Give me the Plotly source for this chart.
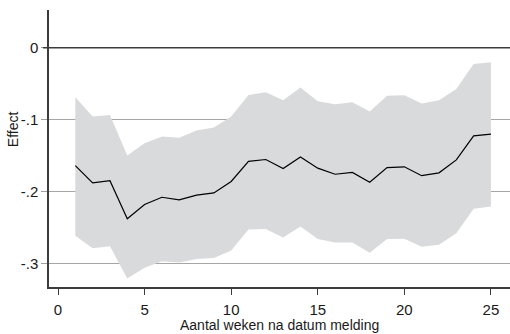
import plotly.graph_objects as go

# Weeks after report date
weeks = list(range(1, 26))

# Point estimates
effect = [-0.164, -0.188, -0.185, -0.238, -0.218, -0.208, -0.2115, -0.205, -0.202, -0.186,
          -0.158, -0.1555, -0.168, -0.152, -0.1675, -0.176, -0.1735, -0.187, -0.1667, -0.1657,
          -0.178, -0.174, -0.156, -0.1226, -0.1203]

# Upper confidence bound
upper = [-0.069, -0.0958, -0.0935, -0.150, -0.1328, -0.1236, -0.1254, -0.1153, -0.111, -0.0958,
         -0.0657, -0.062, -0.073, -0.0555, -0.0745, -0.0787, -0.0759, -0.0889, -0.067, -0.066,
         -0.0777, -0.073, -0.0574, -0.0226, -0.0203]

# Lower confidence bound
lower = [-0.2615, -0.279, -0.276, -0.321, -0.306, -0.297, -0.2986, -0.294, -0.2925, -0.282,
         -0.253, -0.252, -0.264, -0.2486, -0.266, -0.271, -0.271, -0.285, -0.266, -0.2657,
         -0.277, -0.274, -0.258, -0.224, -0.221]

x_ticks = [0, 5, 10, 15, 20, 25]
y_ticks = [0, -0.1, -0.2, -0.3]
y_ticklabels = ["0", "-.1", "-.2", "-.3"]

band_color = "#d9dadb"
axis_color = "#3c3c3c"
text_color = "#1a1a1a"
font_family = "Liberation Sans, Arial, sans-serif"

fig = go.Figure()

# Confidence band
fig.add_trace(go.Scatter(
    x=weeks + weeks[::-1],
    y=upper + lower[::-1],
    fill="toself",
    fillcolor=band_color,
    line=dict(width=0),
    mode="lines",
    hoverinfo="skip",
    showlegend=False,
))

# Estimate line
fig.add_trace(go.Scatter(
    x=weeks, y=effect, mode="lines",
    line=dict(color="#000000", width=1.2),
    showlegend=False,
))

# Reference line at zero (including its dark tick on the y axis)
fig.add_shape(type="line", xref="paper", yref="y", x0=-0.013, x1=1, y0=0, y1=0,
              line=dict(color=axis_color, width=1.6), layer="above")

fig.update_layout(
    width=510, height=334,
    margin=dict(l=49, r=0, t=10, b=47),
    paper_bgcolor="white", plot_bgcolor="white",
    font=dict(family=font_family, size=15, color=text_color),
    showlegend=False,
    xaxis=dict(
        range=[-0.52, 26.1],
        tickmode="array", tickvals=x_ticks,
        ticks="outside", ticklen=6, tickwidth=1.2, tickcolor=axis_color,
        ticklabelstandoff=2,
        showline=True, linecolor=axis_color, linewidth=1.5,
        showgrid=False, zeroline=False,
        tickfont=dict(size=15, color=text_color),
    ),
    yaxis=dict(
        range=[-0.3328, 0.0524],
        tickmode="array", tickvals=y_ticks, ticktext=y_ticklabels,
        ticks="outside", ticklen=6, tickwidth=1.2, tickcolor="#a0a0a0",
        showline=True, linecolor=axis_color, linewidth=1.5,
        showgrid=True, gridcolor="#a6a6a6", gridwidth=1,
        zeroline=False,
        tickfont=dict(size=15, color=text_color),
    ),
    annotations=[
        dict(text="Aantal weken na datum melding", xref="paper", yref="paper",
             x=0.5, y=-0.1, xanchor="center", yanchor="top", showarrow=False,
             font=dict(size=14, color=text_color)),
        dict(text="Effect", xref="paper", yref="paper",
             x=-0.078, y=0.57, xanchor="center", yanchor="middle", textangle=-90,
             showarrow=False, font=dict(size=14, color=text_color)),
    ],
)

fig.write_html("out.html")
